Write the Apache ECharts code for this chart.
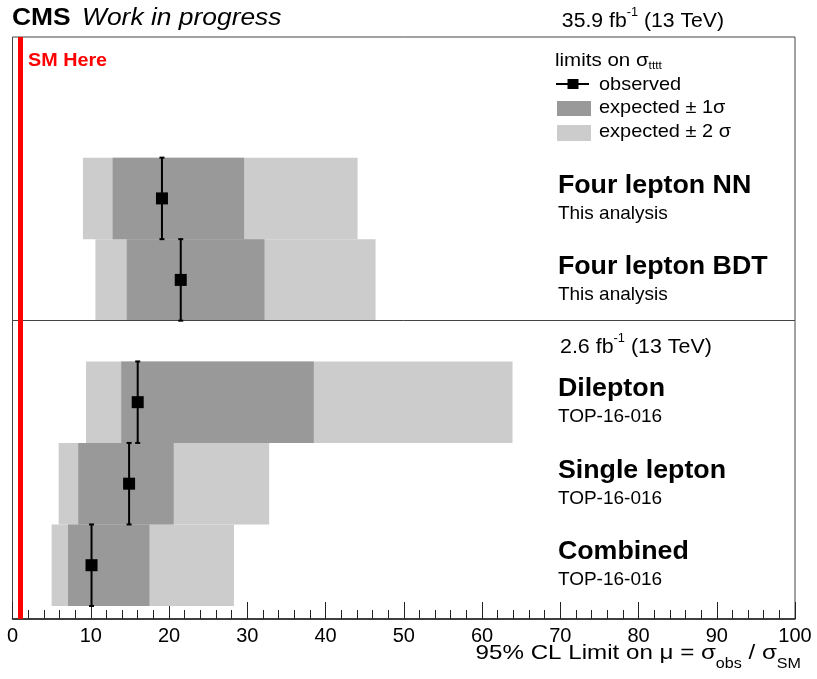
<!DOCTYPE html>
<html><head><meta charset="utf-8">
<script src="https://cdn.jsdelivr.net/npm/echarts@6/dist/echarts.min.js"></script>
<style>html,body{margin:0;padding:0;background:#fff}#c{width:817px;height:679px}</style>
</head><body><div id="c"></div>
<script>
// ---- data ----
const categories = ['Four lepton NN', 'Four lepton BDT', 'Dilepton', 'Single lepton', 'Combined'];
const subtitles = ['This analysis', 'This analysis', 'TOP-16-016', 'TOP-16-016', 'TOP-16-016'];
const rowPos = [5.16, 4.16, 2.66, 1.66, 0.66];
const observed = [19.1, 21.5, 16.0, 14.9, 10.1];
const exp1Lo = [12.8, 14.6, 13.9, 8.4, 7.1];
const exp1Hi = [29.6, 32.2, 38.5, 20.6, 17.5];
const exp2Lo = [9.0, 10.6, 9.4, 5.9, 5.0];
const exp2Hi = [44.1, 46.4, 63.9, 32.8, 28.3];
const xTicks = [0, 10, 20, 30, 40, 50, 60, 70, 80, 90, 100];
const smValue = 1;
const dividerPos = 3.66;

const FONT = 'Liberation Sans, Arial, sans-serif';
const chart = echarts.init(document.getElementById('c'));

function bandItem(fill) {
  return function (params, api) {
    const y = api.value(0), lo = api.value(1), hi = api.value(2);
    const p1 = api.coord([lo, y + 0.5]);
    const p2 = api.coord([hi, y - 0.5]);
    return { type: 'rect', shape: { x: p1[0], y: p1[1], width: p2[0] - p1[0], height: p2[1] - p1[1] }, style: { fill: fill } };
  };
}

function supText(x, y, size, parts, align, scaleX) {
  return {
    type: 'text', x: x, y: y, scaleX: scaleX, originX: 0, originY: 0,
    style: {
      rich: {
        a: { fontSize: size, fontFamily: FONT, fill: '#000', verticalAlign: 'bottom', lineHeight: size + 4 },
        s: { fontSize: Math.round(size * 0.62), fontFamily: FONT, fill: '#000', verticalAlign: 'top', lineHeight: size + 4 }
      },
      text: parts, align: align, verticalAlign: 'middle'
    }
  };
}

const option = {
  animation: false,
  grid: { left: 12.5, right: 22, top: 37, bottom: 60, show: true, borderColor: '#444', borderWidth: 1, backgroundColor: 'transparent', containLabel: false },
  xAxis: {
    type: 'value', min: 0, max: 100, interval: 10,
    axisLine: { show: true, lineStyle: { color: '#222', width: 1.5 } },
    axisTick: { show: true, inside: true, length: 17, lineStyle: { color: '#222' } },
    minorTick: { show: true, splitNumber: 5, length: 9, lineStyle: { color: '#222' } },
    splitLine: { show: false },
    axisLabel: { color: '#000', fontSize: 20, fontFamily: FONT, margin: 7, formatter: v => xTicks.includes(v) ? String(v) : '' }
  },
  yAxis: { type: 'value', min: 0, max: 7.14, show: false },
  series: [
    {
      type: 'custom', name: 'exp2', renderItem: bandItem('#cccccc'),
      encode: { x: [1, 2], y: 0 },
      data: rowPos.map((y, i) => [y, exp2Lo[i], exp2Hi[i]]), z: 1
    },
    {
      type: 'custom', name: 'exp1', renderItem: bandItem('#999999'),
      encode: { x: [1, 2], y: 0 },
      data: rowPos.map((y, i) => [y, exp1Lo[i], exp1Hi[i]]), z: 2
    },
    {
      type: 'custom', name: 'observed',
      encode: { x: 1, y: 0 },
      data: rowPos.map((y, i) => [y, observed[i]]), z: 5,
      renderItem: function (params, api) {
        const y = api.value(0), v = api.value(1);
        const t = api.coord([v, y + 0.5]), b = api.coord([v, y - 0.5]), c = api.coord([v, y]);
        const s = 12;
        return {
          type: 'group', children: [
            { type: 'line', shape: { x1: t[0], y1: t[1], x2: b[0], y2: b[1] }, style: { stroke: '#000', lineWidth: 2 } },
            { type: 'line', shape: { x1: t[0] - 2.5, y1: t[1], x2: t[0] + 2.5, y2: t[1] }, style: { stroke: '#000', lineWidth: 2 } },
            { type: 'line', shape: { x1: b[0] - 2.5, y1: b[1], x2: b[0] + 2.5, y2: b[1] }, style: { stroke: '#000', lineWidth: 2 } },
            { type: 'rect', shape: { x: c[0] - s / 2, y: c[1] - s / 2, width: s, height: s }, style: { fill: '#000' } }
          ]
        };
      },
      markLine: {
        silent: true, symbol: 'none', label: { show: false },
        data: [
          { yAxis: dividerPos, lineStyle: { color: '#444', width: 1, type: 'solid' } }
        ]
      }
    },
    {
      type: 'custom', name: 'labels',
      encode: { y: 0 },
      data: rowPos.map((y, i) => [y, categories[i], subtitles[i]]), z: 6,
      renderItem: function (params, api) {
        const y = api.value(0);
        const i = params.dataIndex;
        const p = api.coord([69.7, y]);
        return {
          type: 'group', children: [
            { type: 'text', x: p[0], y: p[1] - 13, scaleX: 1.03, style: { text: categories[i], fill: '#000', font: 'bold 26px ' + FONT, textAlign: 'left', textVerticalAlign: 'middle' } },
            { type: 'text', x: p[0], y: p[1] + 15, style: { text: subtitles[i], fill: '#000', font: '19px ' + FONT, textAlign: 'left', textVerticalAlign: 'middle' } }
          ]
        };
      }
    },
    {
      type: 'line', name: 'sm', data: [], z: 4,
      markLine: {
        silent: true, symbol: 'none', label: { show: false },
        data: [{ xAxis: smValue, lineStyle: { color: '#ff0000', width: 5, type: 'solid' } }]
      }
    }
  ],
  graphic: [
    { type: 'text', x: 12, y: 18, scaleX: 1.1, style: { text: 'CMS', font: 'bold 24px ' + FONT, fill: '#000', textVerticalAlign: 'middle' } },
    { type: 'text', x: 82, y: 18, scaleX: 1.1, style: { text: 'Work in progress', font: 'italic 24px ' + FONT, fill: '#000', textVerticalAlign: 'middle' } },
    supText(724, 19, 20, '{a|35.9 fb}{s|-1}{a| (13 TeV)}', 'right', 1.06),
    { type: 'text', x: 28, y: 61, scaleX: 1.04, style: { text: 'SM Here', font: 'bold 19px ' + FONT, fill: '#ff0000', textVerticalAlign: 'middle' } },
    // legend
    {
      type: 'text', x: 555, y: 61, scaleX: 1.08,
      style: {
        rich: {
          a: { fontSize: 19, fontFamily: FONT, fill: '#000', lineHeight: 20, verticalAlign: 'top' },
          s: { fontSize: 11, fontFamily: FONT, fill: '#000', lineHeight: 20, verticalAlign: 'bottom' }
        },
        text: '{a|limits on σ}{s|tttt}', verticalAlign: 'middle', align: 'left'
      }
    },
    { type: 'line', shape: { x1: 556, y1: 84, x2: 589, y2: 84 }, style: { stroke: '#000', lineWidth: 2 } },
    { type: 'rect', shape: { x: 567.5, y: 79, width: 11, height: 10 }, style: { fill: '#000' } },
    { type: 'text', x: 599, y: 85, scaleX: 1.05, style: { text: 'observed', font: '19px ' + FONT, fill: '#000', textVerticalAlign: 'middle' } },
    { type: 'rect', shape: { x: 557, y: 101, width: 34, height: 15 }, style: { fill: '#999999' } },
    { type: 'text', x: 599, y: 108, scaleX: 1.05, style: { text: 'expected ± 1σ', font: '19px ' + FONT, fill: '#000', textVerticalAlign: 'middle' } },
    { type: 'rect', shape: { x: 557, y: 125, width: 34, height: 16 }, style: { fill: '#cccccc' } },
    { type: 'text', x: 599, y: 132, scaleX: 1.05, style: { text: 'expected ± 2 σ', font: '19px ' + FONT, fill: '#000', textVerticalAlign: 'middle' } },
    // second luminosity label
    supText(560, 345, 20, '{a|2.6 fb}{s|-1}{a| (13 TeV)}', 'left', 1.07),
    // axis title
    {
      type: 'text', x: 801, y: 657, scaleX: 1.15,
      style: {
        rich: {
          a: { fontSize: 21, fontFamily: FONT, fill: '#000', lineHeight: 28, verticalAlign: 'top' },
          s: { fontSize: 14, fontFamily: FONT, fill: '#000', lineHeight: 28, verticalAlign: 'bottom' }
        },
        text: '{a|95% CL Limit on μ = σ}{s|obs}{a| / σ}{s|SM}', align: 'right', verticalAlign: 'middle'
      }
    }
  ]
};
chart.setOption(option);
</script></body></html>
